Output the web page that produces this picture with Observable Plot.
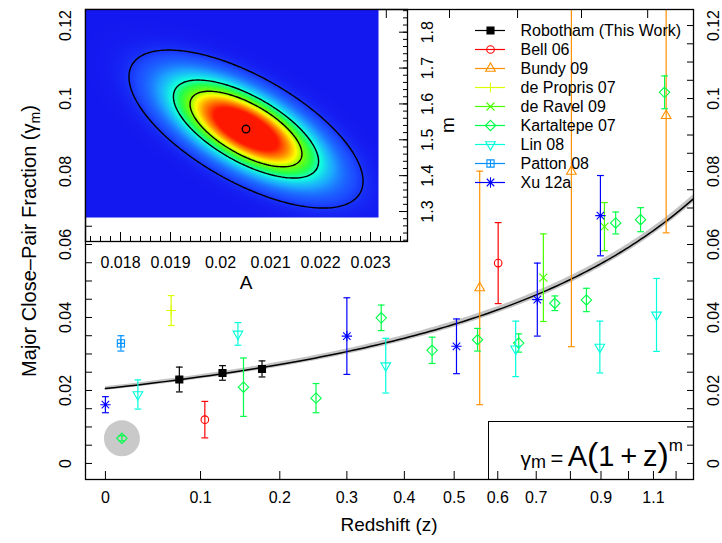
<!DOCTYPE html>
<html><head><meta charset="utf-8">
<script src="https://cdn.jsdelivr.net/npm/d3@7"></script>
<script src="https://cdn.jsdelivr.net/npm/@observablehq/plot@0.6"></script>
<style>
html,body{margin:0;padding:0;background:#fff;}
#wrap{position:relative;width:722px;height:543px;overflow:hidden;font-family:"Liberation Sans",Arial,Helvetica,sans-serif;color:#000;}
#wrap svg{position:absolute;left:0;top:0;overflow:visible;}
.lbl{position:absolute;white-space:nowrap;line-height:1;}
</style></head>
<body><div id="wrap"></div>
<script>
// ---------------- data ----------------
const seriesNames = ["Robotham (This Work)","Bell 06","Bundy 09","de Propris 07","de Ravel 09","Kartaltepe 07","Lin 08","Patton 08","Xu 12a"];

const robothamZ = [0.076, 0.126, 0.176];
const robothamY = [0.0230, 0.0248, 0.0259];
const robothamErr = [0.0034, 0.0020, 0.0022];

const bellZ = [0.105, 0.601];
const bellY = [0.0120, 0.0549];
const bellErr = [0.0050, 0.0111];

const bundyZ = [0.557, 0.803, 1.155];
const bundyY = [0.0481, 0.0800, 0.0953];
const bundyErr = [0.0320, 0.0480, 0.0321];

const deProprisZ = [0.067];
const deProprisY = [0.0419];
const deProprisErr = [0.0041];

const deRavelZ = [0.720, 0.912];
const deRavelY = [0.0509, 0.0649];
const deRavelErr = [0.0120, 0.0066];

const kartaltepeZ = [0.016, 0.152, 0.252, 0.358, 0.454, 0.552, 0.653, 0.753, 0.851, 0.952, 1.047, 1.148];
const kartaltepeY = [0.0069, 0.0209, 0.0179, 0.0399, 0.0310, 0.0339, 0.0330, 0.0439, 0.0448, 0.0659, 0.0668, 0.1017];
const kartaltepeErr = [0.0007, 0.0080, 0.0040, 0.0035, 0.0036, 0.0031, 0.0025, 0.0020, 0.0032, 0.0030, 0.0033, 0.0045];

const linZ = [0.032, 0.145, 0.366, 0.645, 0.896, 1.113];
const linY = [0.0189, 0.0355, 0.0268, 0.0314, 0.0319, 0.0407];
const linErr = [0.0040, 0.0031, 0.0075, 0.0076, 0.0071, 0.0100];

const pattonZ = [0.015];
const pattonY = [0.0329];
const pattonErr = [0.0021];

const xuZ = [0.000, 0.300, 0.505, 0.703, 0.898];
const xuY = [0.0161, 0.0349, 0.0321, 0.0449, 0.0679];
const xuErr = [0.0022, 0.0105, 0.0075, 0.0100, 0.0110];

// highlighted (circled) point: first Kartaltepe point
const highlightSeries = 5, highlightIndex = 0;

// fit gamma_m = A (1+z)^m  and its posterior
const fitA = 0.02051, fitM = 1.53;
const fitSigA = 0.00078, fitSigM = 0.0734, fitRho = -0.66;
const contourLevels = [0.0111, 0.177, 0.357];

// axes
const xDomainZ = [-0.0187, 1.2836];
const xTickZ = [0, 0.1, 0.2, 0.3, 0.4, 0.5, 0.6, 0.7, 0.8, 0.9, 1.0, 1.1, 1.2];
const xLabelZ = [0, 0.1, 0.2, 0.3, 0.4, 0.5, 0.6, 0.7, 0.9, 1.1];
const lookbackTickZ = [0.075, 0.158, 0.253, 0.367, 0.490, 0.650, 0.835, 1.076];
const yDomain = [-0.0044, 0.1244];
const yLabels = [0, 0.02, 0.04, 0.06, 0.08, 0.1, 0.12];

const insetADomain = [0.0173, 0.02374];
const insetMDomain = [1.2164, 1.8633];
const insetATicks = [0.018, 0.019, 0.020, 0.021, 0.022, 0.023];
const insetMTicks = [1.3, 1.4, 1.5, 1.6, 1.7, 1.8];
const heatA = [0.0173, 0.02316];
const heatM = [1.2833, 1.8633];
const heatStops = [0, 0.02, 0.08, 0.16, 0.24, 0.34, 0.44, 0.56, 0.72];
const heatColors = ["#1418f0","#1c4cff","#1ca4ff","#12ffe0","#20ff50","#70ff08","#ffff00","#ff9000","#ff1800"];

// ---------------- styles ----------------
const FONT = '"Liberation Sans", Arial, Helvetica, sans-serif';
const seriesColors = ["#000000","#FF0000","#FF9100","#DBFF00","#49FF00","#00FF49","#00FFDB","#0091FF","#0000FF"];
const mk = fn => ({draw(c, size){ const r = Math.sqrt(size/Math.PI); fn(c, r); }});
const SYM = {
  square: mk((c,r)=>{c.rect(-r,-r,2*r,2*r);}),
  circle: mk((c,r)=>{c.moveTo(r,0); c.arc(0,0,r,0,2*Math.PI);}),
  triUp: mk((c,r)=>{c.moveTo(0,-r); c.lineTo(0.866*r,0.5*r); c.lineTo(-0.866*r,0.5*r); c.closePath();}),
  triDown: mk((c,r)=>{c.moveTo(0,r); c.lineTo(0.866*r,-0.5*r); c.lineTo(-0.866*r,-0.5*r); c.closePath();}),
  plus: mk((c,r)=>{c.moveTo(-r,0); c.lineTo(r,0); c.moveTo(0,-r); c.lineTo(0,r);}),
  times: mk((c,r)=>{c.moveTo(-r,-r); c.lineTo(r,r); c.moveTo(-r,r); c.lineTo(r,-r);}),
  diamond: mk((c,r)=>{c.moveTo(0,-r); c.lineTo(r,0); c.lineTo(0,r); c.lineTo(-r,0); c.closePath();}),
  squarePlus: mk((c,r)=>{c.rect(-r,-r,2*r,2*r); c.moveTo(-r,0); c.lineTo(r,0); c.moveTo(0,-r); c.lineTo(0,r);}),
  star: mk((c,r)=>{const s=r*0.72; c.moveTo(-r,0); c.lineTo(r,0); c.moveTo(0,-r); c.lineTo(0,r); c.moveTo(-s,-s); c.lineTo(s,s); c.moveTo(-s,s); c.lineTo(s,-s);}),
  cap: mk((c,r)=>{c.moveTo(-r,0); c.lineTo(r,0);})
};
const seriesSymbols = [SYM.square, SYM.circle, SYM.triUp, SYM.plus, SYM.times, SYM.diamond, SYM.triDown, SYM.squarePlus, SYM.star];
const seriesFilled = [true, false, false, false, false, false, false, false, false];
const seriesR = [3.5, 3.8, 5.6, 5, 4, 5.2, 5.6, 3.6, 5.2];

// ---------------- build ----------------
const toA = z => z / (1 + z);
const fromA = a => a / (1 - a);
const seriesArrays = [
  [robothamZ, robothamY, robothamErr], [bellZ, bellY, bellErr], [bundyZ, bundyY, bundyErr],
  [deProprisZ, deProprisY, deProprisErr], [deRavelZ, deRavelY, deRavelErr],
  [kartaltepeZ, kartaltepeY, kartaltepeErr], [linZ, linY, linErr],
  [pattonZ, pattonY, pattonErr], [xuZ, xuY, xuErr]
];
const series = seriesArrays.map(([zs, ys, es], i) => ({
  name: seriesNames[i],
  rows: zs.map((z, j) => ({z, a: toA(z), y: ys[j], lo: ys[j] - es[j], hi: ys[j] + es[j]}))
}));
const highlight = [series[highlightSeries].rows[highlightIndex]];

const fitCurve = d3.range(0, xDomainZ[1] + 0.01, 0.01).map(z => {
  const g = fitA * Math.pow(1 + z, fitM);
  const hw = 0.0005 + 0.0010 * toA(z);
  return {a: toA(z), g, lo: g - hw, hi: g + hw};
});

const like = (A, m) => {
  const dx = (A - fitA) / fitSigA, dy = (m - fitM) / fitSigM;
  const q = (dx*dx - 2*fitRho*dx*dy + dy*dy) / (1 - fitRho*fitRho);
  return Math.exp(-q / 2);
};

const W = 722, H = 543;
const fmtTrim = k => d => String(+(+d).toFixed(k));

const dataMarks = [];
series.forEach((s, i) => {
  const col = seriesColors[i];
  const caps = s.rows.flatMap(d => [{a: d.a, v: d.lo}, {a: d.a, v: d.hi}]);
  dataMarks.push(
    Plot.ruleX(s.rows, {x: "a", y1: "lo", y2: "hi", stroke: col, strokeWidth: 1.2, clip: true}),
    Plot.dot(caps, {x: "a", y: "v", symbol: SYM.cap, r: 3.4, stroke: col, fill: "none", strokeWidth: 1.2, clip: true}),
    Plot.dot(s.rows, {x: "a", y: "y", symbol: seriesSymbols[i], r: seriesR[i], stroke: col,
      fill: seriesFilled[i] ? col : "none", strokeWidth: 1.1})
  );
});

const main = Plot.plot({
  width: W, height: H, marginLeft: 85, marginRight: 29, marginTop: 9, marginBottom: 64,
  style: {background: "transparent", fontFamily: FONT, fontSize: "16px", color: "black"},
  x: {type: "linear", domain: xDomainZ.map(toA)},
  y: {type: "linear", domain: yDomain},
  marks: [
    Plot.areaY(fitCurve, {x: "a", y1: "lo", y2: "hi", fill: "#b9b9b9", fillOpacity: 0.85, clip: true}),
    Plot.line(fitCurve, {x: "a", y: "g", stroke: "black", strokeWidth: 1.5, clip: true}),
    Plot.dot(highlight, {x: "a", y: "y", r: 18, fill: "#c9c9c9", stroke: "none"}),
    ...dataMarks,
    Plot.axisX(xTickZ.map(toA), {anchor: "bottom", tickSize: -8, tickFormat: () => "", label: null}),
    Plot.axisX(xLabelZ.map(toA), {anchor: "bottom", tickSize: 0, tickPadding: 12, tickFormat: a => fmtTrim(2)(fromA(a)), label: null}),
    Plot.axisX(lookbackTickZ.map(toA), {anchor: "top", tickSize: -8, tickFormat: () => "", label: null}),
    Plot.axisY(d3.ticks(yDomain[0], yDomain[1], 26), {anchor: "left", tickSize: -7, tickFormat: () => "", label: null}),
    Plot.axisY(d3.ticks(yDomain[0], yDomain[1], 26), {anchor: "right", tickSize: -7, tickFormat: () => "", label: null}),
    Plot.axisY(yLabels, {anchor: "left", tickSize: 0, tickRotate: -90, tickPadding: 15, lineAnchor: "bottom", tickFormat: fmtTrim(2), label: null}),
    Plot.axisY(yLabels, {anchor: "right", tickSize: 0, tickRotate: -90, tickPadding: 14, lineAnchor: "top", tickFormat: fmtTrim(2), label: null}),
    Plot.frame({stroke: "black", strokeWidth: 1.3})
  ]
});

const inset = Plot.plot({
  width: W, height: H, marginLeft: 85, marginRight: 315, marginTop: 9, marginBottom: 302,
  style: {background: "transparent", fontFamily: FONT, fontSize: "16px", color: "black"},
  x: {type: "linear", domain: insetADomain},
  y: {type: "linear", domain: insetMDomain},
  color: {type: "linear", domain: heatStops, range: heatColors, clamp: true},
  marks: [
    Plot.raster({fill: like, x1: heatA[0], x2: heatA[1], y1: heatM[0], y2: heatM[1], pixelSize: 1}),
    Plot.contour({value: like, x1: heatA[0], x2: heatA[1], y1: heatM[0], y2: heatM[1], thresholds: contourLevels, stroke: "black", strokeWidth: 1.4, fill: "none"}),
    Plot.dot([{A: fitA, m: fitM}], {x: "A", y: "m", r: 3.8, stroke: "black", strokeWidth: 1.3, fill: "none"}),
    Plot.axisX(d3.ticks(insetADomain[0], insetADomain[1], 32), {anchor: "bottom", tickSize: -5, tickFormat: () => "", label: null}),
    Plot.axisX(insetATicks, {anchor: "bottom", tickSize: -9, tickFormat: () => "", label: null}),
    Plot.axisX(insetATicks, {anchor: "bottom", tickSize: 0, tickPadding: 15, tickFormat: fmtTrim(3), label: null}),
    Plot.axisY(d3.ticks(insetMDomain[0], insetMDomain[1], 32), {anchor: "right", tickSize: -5, tickFormat: () => "", label: null}),
    Plot.axisY(insetMTicks, {anchor: "right", tickSize: -9, tickFormat: () => "", label: null}),
    Plot.axisY(insetMTicks, {anchor: "right", tickSize: 0, tickRotate: -90, tickPadding: 14, lineAnchor: "top", tickFormat: fmtTrim(1), label: null}),
    Plot.frame({stroke: "black", strokeWidth: 1.3})
  ]
});

const legendMarks = [];
seriesNames.forEach((name, i) => {
  legendMarks.push(
    Plot.ruleY([name], {y: d => d, x1: 0, x2: 1, stroke: seriesColors[i], strokeWidth: 1.2}),
    Plot.dot([name], {x: 0.5, y: d => d, symbol: seriesSymbols[i], r: seriesR[i], stroke: seriesColors[i], fill: seriesFilled[i] ? seriesColors[i] : "none", strokeWidth: 1.1})
  );
});
const legend = Plot.plot({
  width: 240, height: 200, margin: 0,
  style: {background: "transparent", fontFamily: FONT, fontSize: "16px", color: "black"},
  x: {type: "linear", domain: [0, 1], range: [15, 45], axis: null},
  y: {type: "point", domain: seriesNames, range: [28, 28 + 8 * 19.6], padding: 0, axis: null},
  marks: [
    ...legendMarks,
    Plot.text(seriesNames, {x: 1, y: d => d, text: d => d, dx: 15, textAnchor: "start", fill: "black"})
  ]
});

const wrap = document.getElementById("wrap");
wrap.appendChild(main);
wrap.appendChild(inset);
legend.style.left = "460px"; legend.style.top = "0px";
wrap.appendChild(legend);

wrap.insertAdjacentHTML("beforeend", `
<div class="lbl" style="left:29px;top:241px;transform:translate(-50%,-50%) rotate(-90deg);font-size:20px;">Major Close–Pair Fraction (γ<span style="font-size:14px;position:relative;top:4px;">m</span>)</div>
<div class="lbl" style="left:389px;top:524px;transform:translate(-50%,-50%);font-size:19px;">Redshift (z)</div>
<div class="lbl" style="left:246px;top:282px;transform:translate(-50%,-50%);font-size:19px;">A</div>
<div class="lbl" style="left:447px;top:125px;transform:translate(-50%,-50%) rotate(-90deg);font-size:19px;">m</div>
<div style="position:absolute;left:488px;top:421px;width:205px;height:58px;border-left:1.3px solid #000;border-top:1.3px solid #000;box-sizing:border-box;"></div>
<div class="lbl" style="right:39px;top:437px;">
<span style="font-size:21px">γ</span><span style="font-size:18px;position:relative;top:2px">m</span><span style="font-size:22px">&#8201;=&#8201;</span><span style="font-size:29px">A</span><span style="font-size:34px">(</span><span style="font-size:29px">1&#8201;+&#8201;z</span><span style="font-size:34px">)</span><span style="font-size:17px;position:relative;top:-15px">m</span>
</div>
`);
</script>
</body></html>
